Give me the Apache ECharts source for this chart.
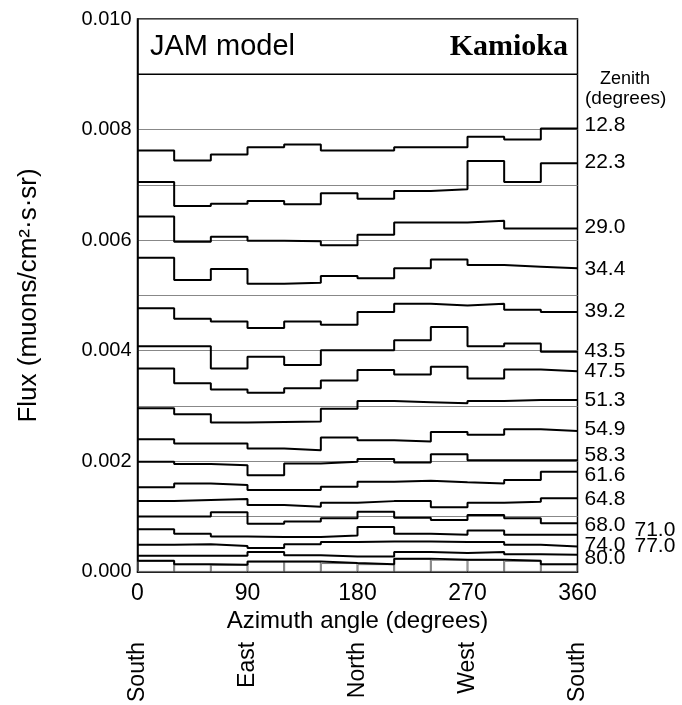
<!DOCTYPE html>
<html><head><meta charset="utf-8">
<script src="https://cdn.jsdelivr.net/npm/echarts@6/dist/echarts.min.js"></script>
<style>html,body{margin:0;padding:0;background:#fff}#c{width:682px;height:705px}</style>
</head><body><div id="c"></div>
<script>
// Azimuth bin edges (degrees)
const azimuthEdges = [0, 30, 60, 90, 120, 150, 180, 210, 240, 270, 300, 330, 360];
const azimuthTicks = [0, 90, 180, 270, 360];
const compassNames = ['South', 'East', 'North', 'West', 'South'];
const zenithNames = ['12.8','22.3','29.0','34.4','39.2','43.5','47.5','51.3','54.9','58.3','61.6','64.8','68.0','71.0','74.0','77.0','80.0'];
const headerLineFlux = 0.009;

// Flux per 30-degree azimuth bin (muons/cm2/s/sr)
const z12_8 = [0.00762,0.00744,0.00755,0.00768,0.00773,0.00762,0.00762,0.00768,0.00768,0.00787,0.00782,0.00802];
const z22_3 = [0.00705,0.00662,0.00666,0.00671,0.00665,0.00685,0.00675,0.00689,0.00692,0.00743,0.00705,0.00739];
const z29_0 = [0.00643,0.00597,0.00606,0.00599,0.00598,0.00591,0.00610,0.00632,0.00632,0.00635,0.00621,0.00621];
const z34_4 = [0.00568,0.00528,0.00548,0.00521,0.00523,0.00535,0.00531,0.00549,0.00565,0.00555,0.00552,0.00549];
const z39_2 = [0.00477,0.00458,0.00453,0.00441,0.00453,0.00447,0.00470,0.00485,0.00482,0.00485,0.00474,0.00470];
const z43_5 = [0.00408,0.00408,0.00368,0.00389,0.00374,0.00401,0.00401,0.00419,0.00443,0.00408,0.00413,0.00398];
const z47_5 = [0.00368,0.00341,0.00330,0.00324,0.00332,0.00346,0.00365,0.00357,0.00371,0.00350,0.00366,0.00363];
const z51_3 = [0.00296,0.00285,0.00270,0.00271,0.00272,0.00295,0.00309,0.00307,0.00305,0.00309,0.00311,0.00311];
const z54_9 = [0.00240,0.00232,0.00232,0.00223,0.00220,0.00243,0.00238,0.00236,0.00253,0.00248,0.00258,0.00255];
const z58_3 = [0.00199,0.00195,0.00193,0.00175,0.00196,0.00199,0.00204,0.00198,0.00213,0.00202,0.00202,0.00202];
const z61_6 = [0.00153,0.00160,0.00157,0.00148,0.00148,0.00154,0.00163,0.00165,0.00162,0.00160,0.00166,0.00181];
const z64_8 = [0.00128,0.00130,0.00132,0.00121,0.00118,0.00125,0.00128,0.00128,0.00117,0.00125,0.00127,0.00133];
const z68_0 = [0.00100,0.00100,0.00108,0.00087,0.00091,0.00097,0.00109,0.00098,0.00094,0.00103,0.00097,0.00088];
const z71_0 = [0.00077,0.00069,0.00064,0.00063,0.00063,0.00066,0.00081,0.00069,0.00067,0.00075,0.00067,0.00067];
const z74_0 = [0.00049,0.00050,0.00047,0.00043,0.00050,0.00054,0.00055,0.00055,0.00054,0.00054,0.00049,0.00046];
const z77_0 = [0.00029,0.00029,0.00029,0.00036,0.00030,0.00028,0.00028,0.00036,0.00034,0.00036,0.00032,0.00031];
const z80_0 = [0.00020,0.00014,0.00013,0.00019,0.00019,0.00016,0.00014,0.00024,0.00022,0.00022,0.00020,0.00014];

const zenithSeries = [z12_8,z22_3,z29_0,z34_4,z39_2,z43_5,z47_5,z51_3,z54_9,z58_3,z61_6,z64_8,z68_0,z71_0,z74_0,z77_0,z80_0];

// label offsets (style): [dx, dy] in px relative to line end
const labelOffsets = [[2,-3],[2,-1],[2,-1],[2,1],[2,-1],[2,-1],[2,0],[2,0],[2,-2],[2,-5],[2,3],[2,1],[2,2],[52,-5],[2,-1],[52,-9],[2,-6]];

const FONT = '"Liberation Sans", Arial, sans-serif';
const chart = echarts.init(document.getElementById('c'), null, {renderer:'canvas'});

const series = [];
// bottom histogram outline (boxes down to zero)
series.push({
  type: 'bar',
  xAxisIndex: 2, yAxisIndex: 0,
  silent: true,
  barCategoryGap: '0%',
  itemStyle: {color: 'rgba(0,0,0,0)', borderColor: '#777', borderWidth: 1},
  data: z80_0
});
// header separator line
series.push({
  type: 'line', silent: true, symbol: 'none',
  xAxisIndex: 0, yAxisIndex: 0,
  lineStyle: {color: '#000', width: 1.5},
  data: [[0, headerLineFlux], [360, headerLineFlux]]
});
zenithSeries.forEach((vals, k) => series.push({
  type: 'line',
  name: zenithNames[k],
  step: 'end',
  symbol: 'none',
  silent: true,
  xAxisIndex: 0, yAxisIndex: 0,
  lineStyle: {color: '#000', width: 2},
  data: azimuthEdges.map((a, i) => [a, vals[Math.min(i, vals.length - 1)]]),
  endLabel: {
    show: true, formatter: zenithNames[k], color: '#000',
    fontFamily: FONT, fontSize: 21, distance: 5, offset: labelOffsets[k]
  }
}));

chart.setOption({
  animation: false,
  backgroundColor: '#fff',
  grid: {left: 137.5, right: 104.5, top: 19, bottom: 131, show: true, borderColor: '#000', borderWidth: 1.5, backgroundColor: 'transparent'},
  xAxis: [
    {type: 'value', min: 0, max: 360, interval: 90,
     name: 'Azimuth angle (degrees)', nameLocation: 'middle', nameGap: 33,
     nameTextStyle: {fontFamily: FONT, fontSize: 24, color: '#000'},
     axisLine: {show: true, lineStyle: {color: '#000', width: 1.5}},
     axisTick: {show: false}, splitLine: {show: false},
     axisLabel: {fontFamily: FONT, fontSize: 23, color: '#000', margin: 10,
       formatter: v => azimuthTicks.includes(v) ? String(v) : ''}},
    {type: 'value', min: 0, max: 360, interval: 90, position: 'bottom', offset: 62,
     axisLine: {show: false}, axisTick: {show: false}, splitLine: {show: false},
     axisLabel: {fontFamily: FONT, fontSize: 23, color: '#000', rotate: 90, margin: 8,
       formatter: v => compassNames[azimuthTicks.indexOf(v)] || ''}},
    {type: 'category', show: false, data: azimuthEdges.slice(0, 12).map(String), boundaryGap: true}
  ],
  yAxis: [{
    type: 'value', min: 0, max: 0.010, interval: 0.001,
    name: 'Flux (muons/cm²·s·sr)', nameLocation: 'middle', nameGap: 96, nameRotate: 90,
    nameTextStyle: {fontFamily: FONT, fontSize: 26, color: '#000'},
    axisLine: {show: true, lineStyle: {color: '#000', width: 1.5}},
    axisTick: {show: false},
    splitLine: {show: true, lineStyle: {color: '#888', width: 1}},
    axisLabel: {fontFamily: FONT, fontSize: 20, color: '#000', margin: 6,
      formatter: v => (Math.round(v * 1000) % 2 === 0) ? v.toFixed(3) : ''}
  }],
  graphic: [
    {type: 'text', left: 150, top: 32, style: {text: 'JAM model', font: '29px ' + FONT, fill: '#000'}},
    {type: 'text', right: 114, top: 32, style: {text: 'Kamioka', font: 'bold 30px "Liberation Serif", "Times New Roman", serif', fill: '#000'}},
    {type: 'text', left: 600, top: 70, style: {text: 'Zenith', font: '18px ' + FONT, fill: '#000'}},
    {type: 'text', left: 585, top: 89, style: {text: '(degrees)', font: '19px ' + FONT, fill: '#000'}}
  ],
  series: series
});
</script></body></html>
